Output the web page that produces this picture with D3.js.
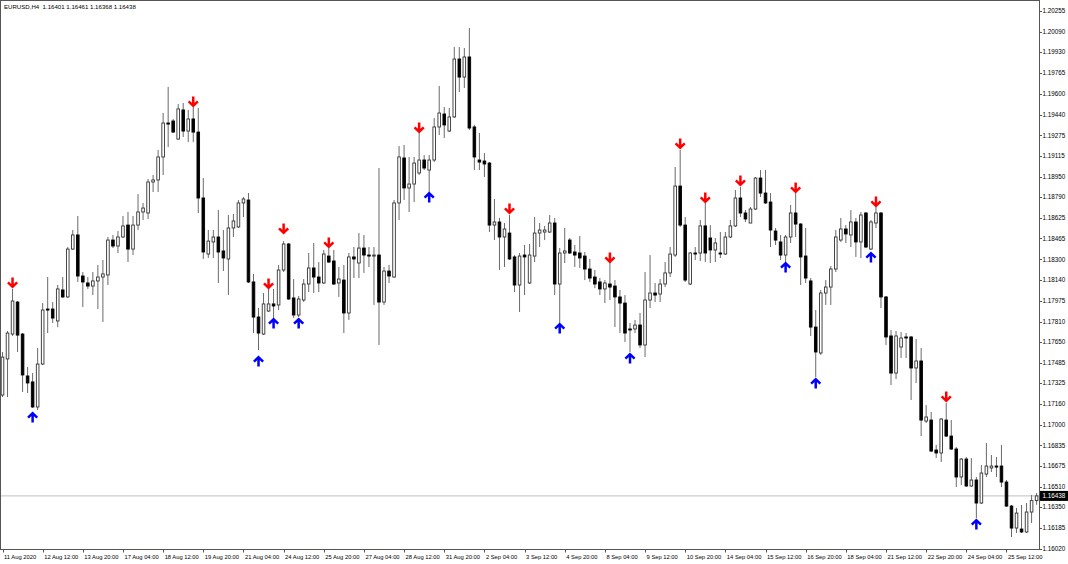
<!DOCTYPE html>
<html><head><meta charset="utf-8">
<script src="https://cdn.jsdelivr.net/npm/d3@7"></script>
<style>html,body{margin:0;padding:0;background:#fff;overflow:hidden}svg{display:block}</style>
</head><body>
<svg id="c" width="1068" height="564"></svg>
<script>
const symbolTitle = "EURUSD,H4";
const opens = [1.17232,1.17516,1.17712,1.17964,1.17712,1.17382,1.17335,1.17138,1.17476,1.17909,1.17909,1.17815,1.18059,1.18004,1.18381,1.18492,1.18169,1.18114,1.18090,1.18130,1.18161,1.18177,1.18452,1.18405,1.18476,1.18570,1.18381,1.18570,1.18673,1.18665,1.18909,1.18925,1.19106,1.19373,1.19389,1.19247,1.19476,1.19310,1.19405,1.19302,1.18783,1.18342,1.18437,1.18476,1.18366,1.18303,1.18547,1.18555,1.18744,1.18767,1.18122,1.17846,1.17712,1.17893,1.17949,1.17941,1.18216,1.18421,1.17996,1.17862,1.17980,1.18106,1.18232,1.18161,1.18114,1.18326,1.18287,1.18114,1.18137,1.17878,1.18319,1.18271,1.18389,1.18334,1.18326,1.18334,1.17964,1.18208,1.18161,1.18744,1.19098,1.18862,1.18893,1.18980,1.19082,1.19003,1.19082,1.19342,1.19444,1.19310,1.19421,1.19877,1.19735,1.19893,1.19342,1.19082,1.19074,1.19058,1.18570,1.18594,1.18476,1.18507,1.18319,1.18098,1.18334,1.18114,1.18326,1.18507,1.18515,1.18515,1.18586,1.18106,1.18350,1.18452,1.18358,1.18350,1.18326,1.18224,1.18161,1.18122,1.18067,1.18106,1.18090,1.18004,1.17956,1.17752,1.17752,1.17783,1.17626,1.17980,1.18035,1.18027,1.18106,1.18193,1.18334,1.18877,1.18570,1.18106,1.18350,1.18350,1.18563,1.18468,1.18374,1.18350,1.18342,1.18476,1.18563,1.18783,1.18665,1.18586,1.18696,1.18940,1.18822,1.18751,1.18523,1.18437,1.18334,1.18476,1.18665,1.18578,1.18326,1.18130,1.17767,1.17563,1.18035,1.18082,1.18224,1.18452,1.18539,1.18492,1.18594,1.18437,1.18665,1.18381,1.18586,1.18665,1.18004,1.17697,1.17405,1.17610,1.17689,1.17689,1.17445,1.17500,1.17027,1.17035,1.16799,1.16776,1.17035,1.16909,1.16807,1.16587,1.16728,1.16516,1.16563,1.16382,1.16610,1.16658,1.16673,1.16673,1.16547,1.16358,1.16185,1.16177,1.16154,1.16311,1.16401];
const highs = [1.17571,1.17736,1.18067,1.17972,1.17720,1.17453,1.17405,1.17602,1.17956,1.18161,1.17964,1.18098,1.18161,1.18397,1.18531,1.18641,1.18200,1.18161,1.18200,1.18256,1.18295,1.18476,1.18492,1.18523,1.18641,1.18673,1.18641,1.18814,1.18744,1.18933,1.18964,1.19161,1.19452,1.19657,1.19405,1.19523,1.19531,1.19476,1.19499,1.19491,1.18940,1.18531,1.18531,1.18688,1.18531,1.18649,1.18657,1.18767,1.18791,1.18822,1.18185,1.17917,1.18035,1.18067,1.18067,1.18256,1.18444,1.18429,1.18145,1.18012,1.18145,1.18350,1.18429,1.18279,1.18374,1.18389,1.18374,1.18240,1.18256,1.18350,1.18397,1.18507,1.18492,1.18397,1.18397,1.19019,1.18240,1.18256,1.18767,1.19192,1.19200,1.19106,1.19106,1.19295,1.19121,1.19121,1.19413,1.19665,1.19499,1.19491,1.19972,1.19972,1.19964,1.20121,1.19358,1.19295,1.19137,1.19066,1.18775,1.18626,1.18586,1.18649,1.18334,1.18350,1.18413,1.18421,1.18633,1.18586,1.18563,1.18649,1.18626,1.18389,1.18547,1.18468,1.18413,1.18484,1.18358,1.18303,1.18216,1.18153,1.18137,1.18279,1.18137,1.18059,1.18019,1.17799,1.17823,1.17878,1.18200,1.18334,1.18114,1.18145,1.18279,1.18397,1.19027,1.19161,1.18633,1.18358,1.18397,1.18610,1.18744,1.18570,1.18468,1.18515,1.18515,1.18610,1.18846,1.18870,1.18688,1.18712,1.18948,1.19003,1.19003,1.18822,1.18547,1.18492,1.18492,1.18728,1.18822,1.18586,1.18547,1.18153,1.17901,1.18059,1.18137,1.18248,1.18531,1.18626,1.18570,1.18688,1.18626,1.18673,1.18673,1.18610,1.18712,1.18673,1.18012,1.17744,1.17736,1.17728,1.17720,1.17697,1.17673,1.17602,1.17153,1.17098,1.16839,1.17051,1.17169,1.17035,1.16823,1.16736,1.16744,1.16736,1.16587,1.16681,1.16854,1.16760,1.16744,1.16839,1.16563,1.16366,1.16343,1.16366,1.16382,1.16445,1.16461];
const lows = [1.17216,1.17216,1.17697,1.17571,1.17256,1.17248,1.17130,1.17114,1.17468,1.17720,1.17799,1.17767,1.17996,1.17996,1.18374,1.18122,1.17925,1.18067,1.18019,1.17909,1.17807,1.18098,1.18389,1.18350,1.18468,1.18279,1.18334,1.18531,1.18610,1.18618,1.18830,1.18830,1.18964,1.19184,1.19295,1.19240,1.19263,1.19224,1.19224,1.18665,1.18303,1.18311,1.18311,1.18114,1.18208,1.18019,1.18476,1.18547,1.18633,1.18114,1.17720,1.17586,1.17704,1.17886,1.17838,1.17901,1.18200,1.17980,1.17838,1.17846,1.17964,1.18043,1.18035,1.18043,1.18106,1.18271,1.18098,1.18004,1.17720,1.17823,1.18153,1.18153,1.18193,1.18240,1.17941,1.17626,1.17941,1.18114,1.18153,1.18610,1.18767,1.18673,1.18751,1.18964,1.19003,1.18822,1.19066,1.19279,1.19255,1.19302,1.19413,1.19617,1.19649,1.19318,1.19003,1.19003,1.18948,1.18515,1.18452,1.18216,1.18240,1.18295,1.18043,1.17886,1.18019,1.18106,1.18279,1.18397,1.18452,1.18507,1.18019,1.17799,1.18271,1.18342,1.18240,1.18232,1.18137,1.18122,1.18074,1.18019,1.17956,1.17980,1.17767,1.17720,1.17649,1.17571,1.17720,1.17602,1.17531,1.17917,1.17964,1.17964,1.18082,1.18161,1.18319,1.18555,1.18122,1.18098,1.18295,1.18287,1.18279,1.18271,1.18279,1.18311,1.18334,1.18468,1.18555,1.18633,1.18594,1.18586,1.18688,1.18791,1.18736,1.18397,1.18413,1.18295,1.18279,1.18429,1.18476,1.18098,1.18114,1.17697,1.17374,1.17547,1.17941,1.17941,1.18200,1.18437,1.18429,1.18397,1.18319,1.18311,1.18389,1.18374,1.18547,1.17917,1.17626,1.17311,1.17358,1.17523,1.17523,1.17193,1.17327,1.16909,1.17012,1.16783,1.16736,1.16705,1.16902,1.16799,1.16508,1.16524,1.16508,1.16508,1.16264,1.16374,1.16587,1.16626,1.16587,1.16508,1.16351,1.16114,1.16146,1.16146,1.16146,1.16225,1.16368];
const closes = [1.17531,1.17720,1.17972,1.17704,1.17390,1.17327,1.17138,1.17476,1.17901,1.17901,1.17838,1.18067,1.18004,1.18381,1.18492,1.18169,1.18122,1.18090,1.18130,1.18161,1.18185,1.18452,1.18405,1.18476,1.18563,1.18381,1.18570,1.18673,1.18704,1.18909,1.18925,1.19106,1.19373,1.19365,1.19302,1.19484,1.19310,1.19405,1.19302,1.18783,1.18358,1.18444,1.18476,1.18358,1.18311,1.18547,1.18602,1.18744,1.18775,1.18122,1.17846,1.17720,1.17949,1.17949,1.17933,1.18216,1.18421,1.17988,1.17862,1.17988,1.18106,1.18232,1.18161,1.18114,1.18342,1.18279,1.18106,1.18145,1.17878,1.18319,1.18303,1.18389,1.18334,1.18326,1.18334,1.17964,1.18208,1.18169,1.18744,1.19106,1.18862,1.18893,1.19058,1.19082,1.19019,1.19082,1.19342,1.19452,1.19358,1.19421,1.19877,1.19735,1.19893,1.19334,1.19106,1.19066,1.19051,1.18570,1.18594,1.18476,1.18539,1.18303,1.18098,1.18326,1.18319,1.18334,1.18507,1.18531,1.18531,1.18586,1.18106,1.18350,1.18366,1.18350,1.18334,1.18311,1.18224,1.18153,1.18106,1.18067,1.18114,1.18082,1.18004,1.17956,1.17720,1.17744,1.17783,1.17626,1.17980,1.18035,1.18019,1.18106,1.18193,1.18342,1.18877,1.18570,1.18137,1.18350,1.18342,1.18563,1.18350,1.18374,1.18429,1.18342,1.18476,1.18563,1.18783,1.18665,1.18618,1.18696,1.18940,1.18822,1.18744,1.18531,1.18452,1.18334,1.18476,1.18665,1.18578,1.18319,1.18153,1.17767,1.17571,1.18035,1.18082,1.18224,1.18476,1.18539,1.18500,1.18594,1.18437,1.18649,1.18397,1.18594,1.18665,1.18004,1.17689,1.17405,1.17697,1.17681,1.17681,1.17445,1.17500,1.17035,1.17059,1.16791,1.16776,1.17043,1.16909,1.16807,1.16587,1.16728,1.16516,1.16563,1.16382,1.16618,1.16673,1.16673,1.16665,1.16547,1.16358,1.16185,1.16303,1.16154,1.16311,1.16401,1.16438];

const xTickLabels = ["11 Aug 2020","12 Aug 12:00","13 Aug 20:00","17 Aug 04:00","18 Aug 12:00","19 Aug 20:00","21 Aug 04:00","24 Aug 12:00","25 Aug 20:00","27 Aug 04:00","28 Aug 12:00","31 Aug 20:00","2 Sep 04:00","3 Sep 12:00","4 Sep 20:00","8 Sep 04:00","9 Sep 12:00","10 Sep 20:00","14 Sep 04:00","15 Sep 12:00","16 Sep 20:00","18 Sep 04:00","21 Sep 12:00","22 Sep 20:00","24 Sep 04:00","25 Sep 12:00"];
const xTickEveryBars = 8;
const yTickLabels = ["1.20255","1.20090","1.19930","1.19765","1.19600","1.19440","1.19275","1.19115","1.18950","1.18790","1.18625","1.18465","1.18300","1.18140","1.17975","1.17810","1.17650","1.17485","1.17325","1.17160","1.17000","1.16835","1.16675","1.16510","1.16350","1.16185","1.16020"];

const sellBars   = [2,38,53,56,65,83,101,121,135,140,147,158,174,188];
const sellPrices = [1.18074,1.19499,1.18067,1.18500,1.18389,1.19295,1.18657,1.18271,1.19169,1.18744,1.18877,1.18822,1.18712,1.17177];
const buyBars    = [6,51,54,59,85,111,125,156,162,173,194];
const buyPrices  = [1.17098,1.17539,1.17838,1.17838,1.18830,1.17799,1.17563,1.18279,1.17366,1.18358,1.16256];

const svg = d3.select('#c');
const n = opens.length;
const plotRight = 1039.5, plotBottom = 549.5;
const x = d3.scaleLinear().domain([0, n - 1]).range([2.5, 1036.6]);
const y = d3.scaleLinear().domain([1.16020, 1.20255]).range([549, 11]);
const font = "'Liberation Sans', Arial, sans-serif";
const last = n - 1;

svg.append('rect').attr('x',0).attr('y',0).attr('width',1068).attr('height',564).attr('fill','#fff');

// current price line
svg.append('line').attr('x1',1).attr('x2',plotRight).attr('y1',y(closes[last])).attr('y2',y(closes[last]))
  .attr('stroke','#c0c0c0').attr('stroke-width',1);

const bars = d3.range(n);
const bw = 2.6;
const gC = svg.append('g');
gC.selectAll('line.w').data(bars).join('line').attr('class','w')
  .attr('x1',i=>x(i)).attr('x2',i=>x(i)).attr('y1',i=>y(highs[i])).attr('y2',i=>y(lows[i]))
  .attr('stroke','#6a6a6a').attr('stroke-width',1);
gC.selectAll('rect.b').data(bars).join('rect').attr('class','b')
  .attr('x',i=>x(i)-bw/2)
  .attr('y',i=>y(Math.max(opens[i],closes[i])))
  .attr('width',bw)
  .attr('height',i=>Math.max(0.5,Math.abs(y(opens[i])-y(closes[i]))))
  .attr('fill',i=>closes[i]>=opens[i]?'#fff':'#000')
  .attr('stroke',i=>closes[i]>=opens[i]?'#333':'#000')
  .attr('stroke-width',0.9);

// arrows
const gA = svg.append('g').attr('fill','none').attr('stroke-width',2.5).attr('stroke-linejoin','miter');
gA.selectAll('path.s').data(d3.range(sellBars.length)).join('path').attr('class','s')
  .attr('transform',k=>`translate(${x(sellBars[k])},${y(sellPrices[k])})`)
  .attr('d','M0,-10.5V-1.5M-4.6,-5.6L0,-1.2L4.6,-5.6')
  .attr('stroke','#ff0000');
gA.selectAll('path.u').data(d3.range(buyBars.length)).join('path').attr('class','u')
  .attr('transform',k=>`translate(${x(buyBars[k])},${y(buyPrices[k])})`)
  .attr('d','M0,10.5V1.5M-4.6,5.6L0,1.2L4.6,5.6')
  .attr('stroke','#0000ff');

// frame
svg.append('rect').attr('x',0.5).attr('y',0.5).attr('width',plotRight-0.5).attr('height',plotBottom-0.5)
  .attr('fill','none').attr('stroke','#555').attr('stroke-width',1);

// y axis
const gY = svg.append('g');
gY.selectAll('line').data(yTickLabels).join('line')
  .attr('x1',plotRight).attr('x2',plotRight+2.5).attr('y1',d=>Math.round(y(+d))+0.5).attr('y2',d=>Math.round(y(+d))+0.5)
  .attr('stroke','#555');
gY.selectAll('text').data(yTickLabels).join('text')
  .attr('x',1042.5).attr('y',d=>y(+d)).attr('dy','0.35em')
  .attr('font-family',font).attr('font-size',6.3).attr('fill','#000').text(d=>d);

// current price label
const gP = svg.append('g');
gP.append('rect').attr('x',1040).attr('y',y(closes[last])-5).attr('width',28).attr('height',10).attr('fill','#000');
gP.append('text').attr('x',1042.5).attr('y',y(closes[last])).attr('dy','0.35em')
  .attr('font-family',font).attr('font-size',6.3).attr('fill','#fff').text(closes[last].toFixed(5));

// x axis
const gX = svg.append('g');
const xt = xTickLabels.map((t,k)=>({t, i:k*xTickEveryBars}));
gX.selectAll('line').data(xt).join('line')
  .attr('x1',d=>Math.round(x(d.i))+0.5).attr('x2',d=>Math.round(x(d.i))+0.5).attr('y1',plotBottom).attr('y2',plotBottom+3)
  .attr('stroke','#555');
gX.selectAll('text').data(xt).join('text')
  .attr('x',d=>x(d.i)+1.5).attr('y',559.3)
  .attr('font-family',font).attr('font-size',5.8).attr('fill','#000').text(d=>d.t);

// title
svg.append('text').attr('x',4).attr('y',8.6).attr('font-family',font).attr('font-size',6.1).attr('fill','#000')
  .style('white-space','pre')
  .text(`${symbolTitle}  ${opens[last].toFixed(5)} ${highs[last].toFixed(5)} ${lows[last].toFixed(5)} ${closes[last].toFixed(5)}`);
</script>
</body></html>
